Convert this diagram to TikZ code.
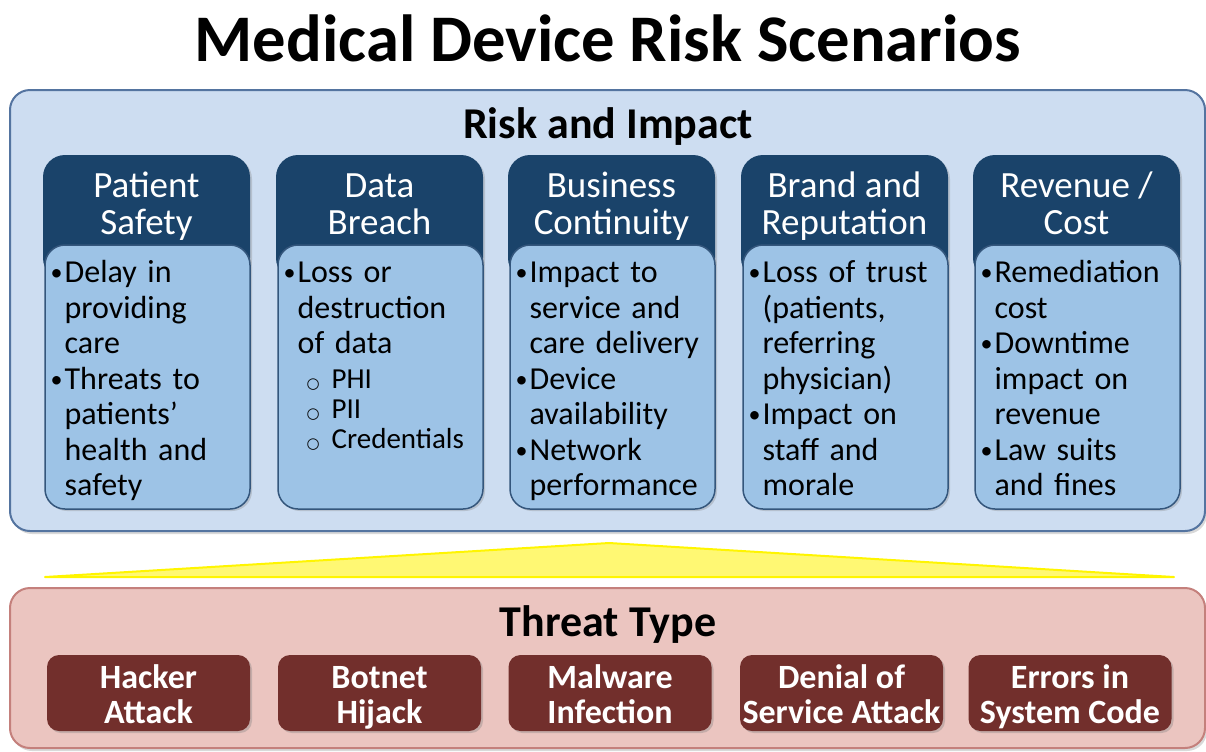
\documentclass[tikz,border=0pt]{standalone}
\usepackage{fontspec}
\setmainfont{Carlito}
\newfontfamily\symfont{DejaVu Sans}
\usetikzlibrary{calc,shadows}

\definecolor{outerblue}{RGB}{205,221,241}
\definecolor{outerline}{RGB}{84,116,160}
\definecolor{headblue}{RGB}{26,67,106}
\definecolor{bodyblue}{RGB}{157,195,230}
\definecolor{bodyline}{RGB}{52,86,124}
\definecolor{threatpink}{RGB}{235,197,192}
\definecolor{threatline}{RGB}{196,128,124}
\definecolor{threatred}{RGB}{114,47,44}
\definecolor{wedgefill}{RGB}{255,248,115}
\definecolor{wedgeline}{RGB}{255,245,0}

%% bullet and sub-bullet lines
\newcommand{\itm}[1]{\par\noindent\hangindent=8pt\hangafter=1%
  \makebox[8pt][l]{\hspace{1pt}\raisebox{1pt}{\fontsize{12}{12}\selectfont\textbullet}}#1}
\newcommand{\subitm}[1]{\par\fontsize{14.5}{15}\selectfont\noindent\hspace*{12.5pt}%
  \makebox[12.5pt][l]{\symfont\fontsize{7.5}{8}\selectfont ○}#1}

\begin{document}
\begin{tikzpicture}[x=0.5pt,y=-0.5pt,
  panel/.style={line width=1pt, rounded corners=10pt, minimum width=597.5pt,
    drop shadow={opacity=0.3, shadow xshift=1pt, shadow yshift=-1.5pt}},
  headbox/.style={fill=headblue, rounded corners=11pt, minimum width=103.5pt,
    minimum height=62.5pt, inner sep=0pt,
    drop shadow={opacity=0.3, shadow xshift=1pt, shadow yshift=-1pt}},
  headtext/.style={anchor=base, text=white, align=center, inner sep=0pt,
    font=\fontsize{18.5}{18.5}\selectfont},
  bodybox/.style={draw=bodyline, line width=0.75pt, fill=bodyblue, rounded corners=10pt,
    minimum width=102.5pt, minimum height=132pt, inner sep=0pt,
    drop shadow={opacity=0.3, shadow xshift=1pt, shadow yshift=-1pt}},
  bodytext/.style={anchor=base west, inner sep=0pt, text width=97pt, align=left,
    font=\fontsize{16}{17.75}\selectfont},
  threatbox/.style={fill=threatred, rounded corners=6pt, minimum width=101.5pt,
    minimum height=38pt, inner sep=0pt,
    drop shadow={opacity=0.35, shadow xshift=1pt, shadow yshift=-1pt}},
  threattext/.style={anchor=base, text=white, align=center, inner sep=0pt,
    font=\bfseries\fontsize{17}{17.5}\selectfont},
  heading/.style={font=\bfseries\fontsize{22}{26}\selectfont}]

  \useasboundingbox (0,0) rectangle (1206,751);

  %% Title
  \node[font=\bfseries\fontsize{33.3}{38}\selectfont] (title) at (608,38) {Medical Device Risk Scenarios};

  %% Risk panel
  \node[panel, draw=outerline, fill=outerblue, minimum height=220.5pt] (risk) at (607.5,310.5) {};
  \node[heading] (riskhead) at (608,127) {Risk and Impact};

  %% Yellow wedge between the panels
  \filldraw[fill=wedgefill, draw=wedgeline, line width=1pt, line join=round]
    (45,577) -- (609,543) -- (1174,577) -- cycle;

  %% Threat panel
  \node[panel, draw=threatline, fill=threatpink, minimum height=80pt] (threat) at (607.5,668) {};
  \node[heading] (threathead) at (608,625) {Threat Type};

  %% Column boxes
  \foreach \i/\x/\head in {1/146.5/{Patient\\Safety}, 2/379.5/{Data\\Breach},
      3/611.5/{Business\\Continuity}, 4/844.5/{Brand and\\Reputation}, 5/1076.5/{Revenue /\\Cost}}
  {
    \node[headbox] (H\i) at (\x,217.5) {};
    \node[headtext] (H\i-l) at ($(H\i.north)+(0,80)$) {\head};
    \node[bodybox] (B\i) at (\x+1,377) {};
  }

  %% Column texts
  \node[bodytext] (T1) at ($(B1.north west)+(4,3)$)
    {\itm{Delay in\newline providing\newline care}\itm{Threats to\newline patients’\newline health and\newline safety}\par};
  \node[bodytext] (T2) at ($(B2.north west)+(4,3)$)
    {\itm{Loss or\newline destruction\newline of data}\par\vspace{2.5pt}\subitm{PHI}\subitm{PII}\subitm{Credentials}\par};
  \node[bodytext] (T3) at ($(B3.north west)+(4,3)$)
    {\itm{Impact to\newline service and\newline care delivery}\itm{Device\newline availability}\itm{Network\newline performance}\par};
  \node[bodytext] (T4) at ($(B4.north west)+(4,3)$)
    {\itm{Loss of trust\newline (patients,\newline referring\newline physician)}\itm{Impact on\newline staff and\newline morale}\par};
  \node[bodytext] (T5) at ($(B5.north west)+(4,3)$)
    {\itm{Remediation\newline cost}\itm{Downtime\newline impact on\newline revenue}\itm{Law suits\newline and fines}\par};

  %% Threat boxes
  \foreach \i/\x/\txt in {1/148.5/{Hacker\\Attack}, 2/379.5/{Botnet\\Hijack}, 3/610/{Malware\\Infection},
      4/841.5/{Denial of\\Service Attack}, 5/1070/{Errors in\\System Code}}
  {
    \node[threatbox] (R\i) at (\x,693) {};
    \node[threattext] (R\i-l) at ($(R\i.north)+(0,69)$) {\txt};
  }
\end{tikzpicture}
\end{document}
